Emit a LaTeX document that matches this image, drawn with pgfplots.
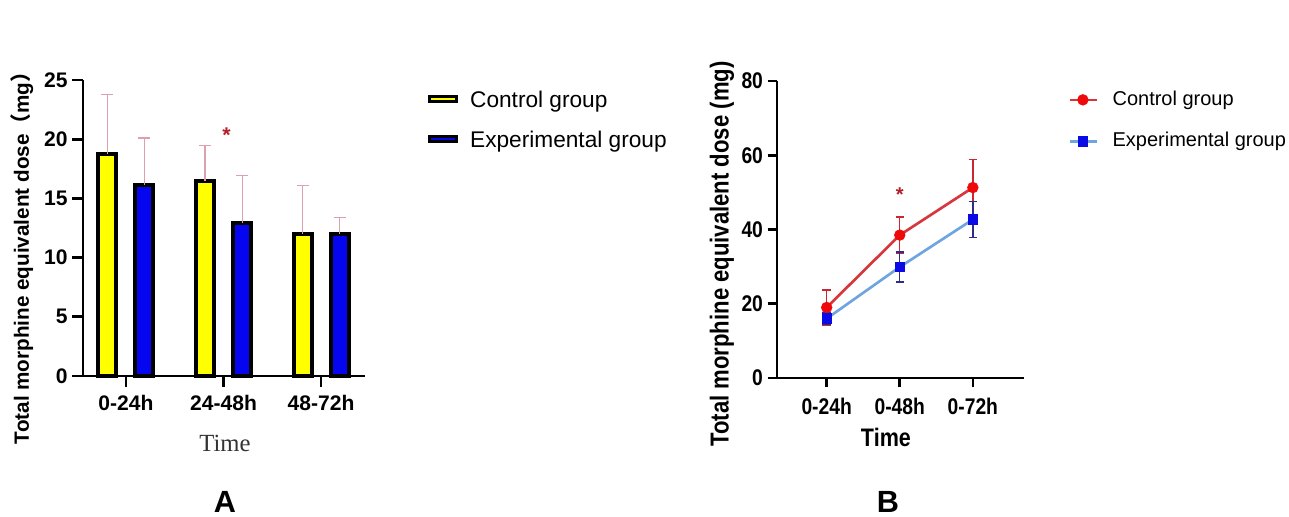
\documentclass[border=0pt]{standalone}
\usepackage{fontspec}
\setmainfont{Liberation Sans}
\newfontfamily\narrowfont[FakeStretch=0.85]{Liberation Sans}
\newfontfamily\cjk{Noto Sans CJK SC}
\newfontfamily\timefont{Liberation Serif}
\usepackage{pgfplots}
\usepackage{pgfplotstable}
\pgfplotsset{compat=1.18}

\definecolor{baryellow}{RGB}{255,255,0}
\definecolor{barblue}{RGB}{5,5,240}
\definecolor{errpink}{RGB}{222,160,172}
\definecolor{starred}{RGB}{180,30,40}
\definecolor{ctrlline}{RGB}{215,55,60}
\definecolor{ctrlmark}{RGB}{238,10,10}
\definecolor{ctrlerr}{RGB}{200,40,50}
\definecolor{expline}{RGB}{110,165,225}
\definecolor{expmark}{RGB}{10,10,230}
\definecolor{experr}{RGB}{45,45,140}

\pgfplotstableread{
x y e
0 18.75 5.05
1 16.45 3.05
2 12.0 4.05
}\barctrl
\pgfplotstableread{
x y e
0 16.15 3.95
1 12.9 4.0
2 12.0 1.4
}\barexp
\pgfplotstableread{
x y e
0 19.0 4.7
1 38.5 4.9
2 51.3 7.5
}\linectrl
\pgfplotstableread{
x y e
0 16.0 1.5
1 29.9 4.0
2 42.7 4.9
}\lineexp

\begin{document}
\begin{tikzpicture}
\path[use as bounding box] (0,0) rectangle (966.75pt,387.75pt);
% ---------------- Panel A ----------------
\begin{axis}[
  at={(62.25pt,105.75pt)}, anchor=south west,
  scale only axis, width=211.5pt, height=222pt,
  xmin=-0.44, xmax=2.45, ymin=0, ymax=25,
  axis x line*=bottom, axis y line*=left,
  axis line style={-, line width=2pt, black},
  xtick={0,1,2}, xticklabels={0-24h,24-48h,48-72h},
  ytick={0,5,10,15,20,25},
  tick align=outside, major tick length=8pt,
  tick style={line width=2pt, black},
  ticklabel style={font=\fontsize{15.8}{18}\selectfont\bfseries},
  xticklabel style={yshift=-3pt},
  /pgf/number format/assume math mode=true,
  ylabel={Total morphine equivalent dose{\cjk\bfseries （}mg{\cjk\bfseries ）}},
  every axis y label/.style={at={(axis description cs:-0.216,0.4155)}, rotate=90, anchor=center, font=\fontsize{15.5}{18}\selectfont\bfseries},
  xlabel={\timefont Time},
  every axis x label/.style={at={(axis description cs:0.5035,-0.228)}, anchor=center, font=\fontsize{18.5}{20}\selectfont, text=black!80},
  ybar, bar width=13.5pt,
  clip=false,
  legend style={at={(axis description cs:1.2234,0.963)}, anchor=north west, draw=none, fill=none, inner sep=0pt,
    font=\fontsize{17}{19}\selectfont, row sep=15pt,
    nodes={inner sep=0pt, text height=12pt, text depth=3pt},
    /tikz/every odd column/.append style={column sep=9pt}},
  legend cell align=left,
  legend image code/.code={\draw[#1, line width=2.4pt, draw=black] (0pt,0pt) rectangle (20pt,3.6pt);},
]
\addplot[fill=baryellow, draw=black, line width=3pt, bar shift=-13.9pt,
  error bars/.cd, y dir=plus, y explicit,
  error bar style={line width=0.8pt, color=errpink},
  error mark options={rotate=90, mark size=4.5pt, line width=0.8pt, color=errpink}]
  table[x=x, y=y, y error=e] {\barctrl};
\addlegendentry{Control group}
\addplot[fill=barblue, draw=black, line width=3pt, bar shift=13.9pt,
  error bars/.cd, y dir=plus, y explicit,
  error bar style={line width=0.8pt, color=errpink},
  error mark options={rotate=90, mark size=4.5pt, line width=0.8pt, color=errpink}]
  table[x=x, y=y, y error=e] {\barexp};
\addlegendentry{Experimental group}
\node[text=starred, font=\fontsize{16}{18}\selectfont\bfseries] at (axis cs:1.03,20.3) {*};
\end{axis}
% ---------------- Panel B ----------------
\begin{axis}[
  at={(582.75pt,104.25pt)}, anchor=south west,
  scale only axis, width=185.25pt, height=222.75pt,
  xmin=-0.68, xmax=2.70, ymin=0, ymax=80,
  axis x line*=bottom, axis y line*=left,
  axis line style={-, line width=2pt, black},
  xtick={0,1,2}, xticklabels={0-24h,0-48h,0-72h},
  ytick={0,20,40,60,80},
  tick align=outside, major tick length=7pt,
  tick style={line width=2pt, black},
  ticklabel style={font=\narrowfont\fontsize{17}{19}\selectfont\bfseries},
  xticklabel style={yshift=-4.5pt},
  /pgf/number format/assume math mode=true,
  ylabel={Total morphine equivalent dose (mg)},
  every axis y label/.style={at={(axis description cs:-0.2227,0.4175)}, rotate=90, anchor=center, font=\narrowfont\fontsize{19.5}{21}\selectfont\bfseries},
  xlabel={Time},
  every axis x label/.style={at={(axis description cs:0.441,-0.199)}, anchor=center, font=\narrowfont\fontsize{19}{21}\selectfont\bfseries},
  clip=false,
  legend style={at={(axis description cs:1.178,0.970)}, anchor=north west, draw=none, fill=none, inner sep=0pt,
    font=\fontsize{15}{18}\selectfont, row sep=16.5pt,
    nodes={inner sep=0pt, text height=11.5pt, text depth=3pt},
    /tikz/every odd column/.append style={column sep=11pt}},
  legend cell align=left,
  legend image code/.code={\draw[mark repeat=2, mark phase=2, #1] plot coordinates {(0pt,0pt) (10pt,0pt) (20.25pt,0pt)};},
]
\addplot[color=ctrlline, line width=2pt, mark=*, mark size=4pt,
  mark options={fill=ctrlmark, draw=ctrlmark, line width=0.5pt},
  error bars/.cd, y dir=both, y explicit,
  error bar style={line width=1pt, color=ctrlerr},
  error mark options={rotate=90, mark size=3.2pt, line width=1pt, color=ctrlerr}]
  table[x=x, y=y, y error=e] {\linectrl};
\addlegendentry{Control group}
\addplot[color=expline, line width=2pt, mark=square*, mark size=3.6pt,
  mark options={fill=expmark, draw=expmark, line width=0.5pt},
  error bars/.cd, y dir=both, y explicit,
  error bar style={line width=1pt, color=experr},
  error mark options={rotate=90, mark size=3.2pt, line width=1pt, color=experr}]
  table[x=x, y=y, y error=e] {\lineexp};
\addlegendentry{Experimental group}
\node[text=starred, font=\fontsize{15}{18}\selectfont\bfseries] at (axis cs:1,49.5) {*};
\end{axis}
% panel letters
\node[font=\fontsize{23}{26}\selectfont\bfseries] at (168.75pt,11pt) {A};
\node[font=\fontsize{23}{26}\selectfont\bfseries] at (666pt,11pt) {B};
\end{tikzpicture}
\end{document}
